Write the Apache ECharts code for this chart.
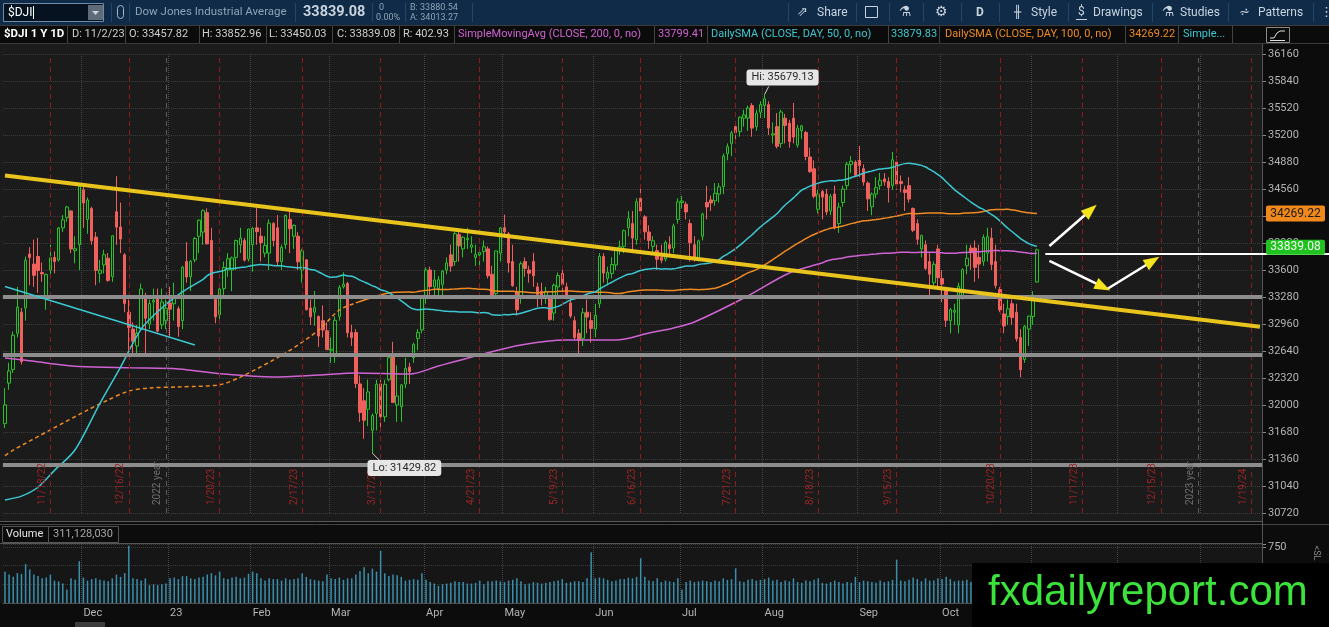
<!DOCTYPE html>
<html>
<head>
<meta charset="utf-8">
<title>$DJI 1 Y 1D</title>
<script src="https://cdn.jsdelivr.net/npm/echarts/dist/echarts.min.js"></script>
<style>
html, body { margin: 0; padding: 0; background: #0c0c0c; }
#main { width: 1329px; height: 627px; }
</style>
</head>
<body>
<div id="main"></div>
<script>
// ---- data ----
var holidays = ['2022-11-24', '2022-12-26', '2023-01-02', '2023-01-16', '2023-02-20', '2023-04-07',
    '2023-05-29', '2023-06-19', '2023-07-04', '2023-09-04', '2023-11-23', '2023-12-25',
    '2024-01-01', '2024-01-15'];
var barCount = 305; // 251 traded days + empty space out to late Jan 24

var opens = [
    31780, 32260, 32420, 32850, 33100, 33150, 33790, 33670, 33760, 33570, 33270, 33600, 33750, 33720, 34100, 34220, 34300, 33830, 33900,
    34550, 34200, 34330, 33990, 33560, 33660, 33740, 33520, 34290, 34110, 33780, 33100, 32900, 32700, 32900, 33300, 32960, 33220, 33260, 32950, 33000,
    33210, 33200, 33140, 33000, 33700, 33520, 33720, 34000, 34050, 34280, 33950, 33250, 33070, 33380, 33600, 33600, 33750, 33900, 33950, 33730,
    33900, 34100, 34000, 33800, 33800, 34150, 34100, 33700, 33900, 34200, 34000, 34000, 33600, 33720, 33150, 33100, 33050, 33000, 32880,
    32650, 32600, 33050, 33400, 33440, 32860, 32860, 32250, 32050, 31950, 31700, 31900, 32250, 31860, 32300, 32570, 32000, 31980, 32250, 32450, 32560, 32790, 32890,
    33280, 33600, 33400, 33380, 33430, 33600, 33780, 33700, 34020, 33850, 33960, 33870, 33750, 33780, 33820, 33850, 33550, 33320, 33800,
    34100, 34030, 33700, 33340, 33280, 33700, 33600, 33700, 33400, 33350, 33300, 33270, 33090, 33400, 33560, 33400, 33210, 33000, 32850, 32790, 33100, 33000,
    32900, 33200, 33760, 33500, 33560, 33660, 33850, 33880, 34100, 34150, 33960, 34450, 34230, 34050, 33880, 33830, 33750, 33730, 33900, 33860, 34200,
    34400, 34380, 34150, 33900, 33740, 34000, 34400, 34430, 34420, 34500, 34590, 34980, 35100, 35300, 35240, 35400, 35400, 35550, 35300, 35470,
    35550, 35560, 35200, 35300, 35100, 35400, 35340, 35400, 35080, 35250, 35230, 34940, 34800, 34320, 34530, 34500, 34300, 34500, 34150, 34400, 34600, 34850, 34880,
    34900, 34800, 34630, 34350, 34500, 34600, 34680, 34650, 34600, 34880, 34650, 34550, 34600, 34330, 34150, 33850, 33900, 33700, 33450, 33850,
    33500, 33370, 33000, 33100, 32950, 33300, 33650, 33860, 33860, 33750, 33700, 33800, 33980, 33700, 33370, 33080, 33050, 33200, 33100, 32800, 32540, 32900,
    33050, 33457.82
];
var highs = [
    32200, 32500, 32870, 33400, 33150, 33760, 33870, 33960, 33980, 33690, 33560, 33900, 33820, 34110, 34250, 34360, 34310, 34000, 34620,
    34600, 34460, 34350, 34050, 33720, 33840, 33800, 34015, 34712, 34400, 33800, 33250, 32980, 32950, 33440, 33330, 33250, 33380, 33380, 33380, 33250,
    33400, 33450, 33170, 33650, 33930, 33720, 33990, 34200, 34320, 34330, 34100, 33280, 33400, 33700, 33800, 33760, 33960, 34100, 33980, 34090,
    34110, 34334, 34100, 34000, 34200, 34170, 34250, 33900, 34260, 34335, 34140, 34050, 33850, 33730, 33250, 33350, 33060, 33180, 32980,
    32800, 33050, 33420, 33572, 33460, 32950, 32900, 32350, 32200, 32300, 31900, 32300, 32300, 32300, 32600, 32750, 32470, 32250, 32560, 32500, 32740, 32900, 33290,
    33630, 33640, 33600, 33530, 33600, 33750, 33900, 34050, 34080, 34000, 34100, 34000, 33900, 33860, 33950, 33880, 33650, 33830, 34110,
    34257, 34050, 33900, 33400, 33700, 33750, 33650, 33800, 33450, 33450, 33400, 33300, 33440, 33570, 33650, 33450, 33300, 33050, 32900, 33150, 33250, 33100,
    33200, 33800, 33800, 33640, 33750, 33850, 33950, 34080, 34300, 34300, 34450, 34588, 34250, 34130, 34000, 33900, 33900, 33950, 34000, 34150, 34450,
    34480, 34410, 34200, 34000, 33960, 34280, 34596, 34480, 34630, 34630, 34980, 35100, 35250, 35330, 35420, 35500, 35550, 35578, 35500, 35600,
    35679.13, 35600, 35350, 35460, 35500, 35450, 35380, 35580, 35320, 35320, 35250, 35050, 34900, 34550, 34550, 34560, 34500, 34600, 34400, 34600, 34880, 34950, 34900,
    35070, 34850, 34650, 34520, 34700, 34750, 34750, 34700, 35000, 34950, 34720, 34600, 34700, 34340, 34200, 34020, 33950, 33800, 33700, 33900,
    33600, 33400, 33150, 33200, 33450, 33620, 33900, 33900, 33950, 33900, 34020, 34100, 34100, 33900, 33400, 33200, 33250, 33250, 33200, 32900, 32950, 33060,
    33350, 33852.96
];
var lows = [
    31727, 32180, 32380, 32800, 32480, 33000, 33420, 33400, 33330, 33460, 33130, 33530, 33560, 33700, 34050, 34170, 33800, 33680, 33600,
    34100, 34030, 33900, 33420, 33450, 33560, 33460, 33460, 33900, 33800, 33100, 32650, 32580, 32580, 32880, 32600, 32900, 33000, 32860, 32900, 32900,
    32810, 33000, 32810, 32900, 33450, 33350, 33690, 33800, 33900, 33900, 33260, 32970, 32960, 33300, 33520, 33350, 33600, 33800, 33700, 33700,
    33580, 33900, 33700, 33750, 33600, 33880, 33650, 33600, 33850, 33800, 33850, 33600, 33450, 33120, 32950, 32940, 32690, 32800, 32650,
    32500, 32500, 33000, 33380, 32800, 32700, 32200, 31800, 31600, 31750, 31429.82, 31700, 31730, 31800, 32280, 32030, 31800, 31800, 32200, 32250, 32500, 32650, 32850,
    33200, 33300, 33280, 33300, 33300, 33550, 33580, 33650, 33700, 33750, 33850, 33800, 33650, 33600, 33700, 33500, 33280, 33300, 33700,
    33980, 33570, 33400, 33060, 33200, 33520, 33450, 33400, 33160, 33180, 33200, 33000, 33000, 33300, 33350, 33250, 33030, 32770, 32586, 32700, 32850, 32740,
    32800, 33150, 33450, 33420, 33500, 33600, 33780, 33800, 34000, 33800, 33900, 34250, 33960, 33850, 33800, 33600, 33680, 33700, 33780, 33800, 34150,
    34330, 34200, 33700, 33700, 33700, 33950, 34200, 34300, 34360, 34400, 34500, 34900, 34950, 35100, 35180, 35300, 35250, 35180, 35250, 35400,
    35400, 35200, 35100, 35040, 35050, 35100, 35050, 35100, 35050, 35150, 34900, 34750, 34450, 34270, 34200, 34250, 34250, 34080, 34040, 34350, 34550, 34750, 34700,
    34700, 34600, 34300, 34250, 34450, 34550, 34600, 34400, 34550, 34550, 34520, 34300, 34400, 34050, 33900, 33750, 33600, 33300, 33400, 33400,
    33220, 32925, 32850, 32950, 32850, 33250, 33550, 33600, 33460, 33500, 33650, 33700, 33600, 33380, 33100, 32850, 32950, 32950, 32750, 32327, 32500, 32700,
    32950, 33450.03
];
var closes = [
    32001, 32403, 32827, 33160, 32514, 33715, 33747, 33537, 33593, 33554, 33546, 33746, 33700, 34098, 34194, 34347, 33850, 33853, 34590,
    34395, 34430, 33947, 33596, 33598, 33781, 33477, 34005, 34108, 33966, 33203, 32920, 32757, 32850, 33376, 33027, 33204, 33241, 32876, 33221, 33147,
    33136, 33270, 32930, 33631, 33517, 33704, 33973, 34190, 34303, 33910, 33297, 33044, 33375, 33630, 33734, 33744, 33949, 33978, 33717, 34086,
    34093, 34054, 33926, 33891, 34156, 33949, 33699, 33869, 34246, 34089, 34128, 33697, 33827, 33130, 33045, 33154, 32817, 32889, 32657,
    32662, 33004, 33391, 33432, 32856, 32798, 32254, 31910, 31820, 32155, 31875, 32247, 31862, 32245, 32561, 32031, 32106, 32238, 32433, 32395, 32718, 32860, 33274,
    33601, 33402, 33482, 33485, 33587, 33684, 33646, 34030, 33886, 33987, 33976, 33897, 33786, 33809, 33875, 33531, 33302, 33826, 34098,
    34051, 33684, 33414, 33128, 33674, 33619, 33562, 33531, 33309, 33301, 33348, 33012, 33420, 33535, 33427, 33286, 33055, 32800, 32765, 33093, 33042, 32908,
    33061, 33762, 33563, 33573, 33665, 33833, 33876, 34066, 34212, 33979, 34408, 34299, 34053, 33951, 33946, 33727, 33715, 33927, 33853, 34122, 34408,
    34418, 34288, 33922, 33734, 33945, 34262, 34347, 34395, 34509, 34585, 34952, 35061, 35225, 35228, 35411, 35438, 35520, 35282, 35459, 35560,
    35630, 35282, 35215, 35066, 35473, 35314, 35123, 35176, 35281, 35308, 34946, 34766, 34475, 34500, 34464, 34288, 34473, 34099, 34347, 34560, 34852, 34890, 34722,
    34838, 34642, 34443, 34500, 34577, 34663, 34646, 34576, 34907, 34618, 34624, 34518, 34441, 34070, 33964, 34007, 33619, 33551, 33667, 33508,
    33433, 33003, 33130, 33120, 33408, 33605, 33740, 33804, 33631, 33670, 33985, 33998, 33665, 33415, 33127, 32936, 33141, 33036, 32784, 32418, 32929, 33053,
    33275, 33839.08
];
// volume, millions of shares
var volumes = [
    420, 380, 350, 400, 390, 520, 450, 380, 360, 330, 340, 380, 300, 290, 260, 180, 330, 310, 560,
    340, 300, 320, 330, 310, 300, 290, 330, 380, 350, 400, 768, 330, 320, 300, 330, 240, 250, 240, 250, 260,
    330, 340, 320, 360, 360, 330, 320, 340, 350, 380, 400, 370, 420, 330, 320, 340, 350, 330, 340, 390,
    420, 400, 330, 300, 330, 320, 320, 300, 330, 310, 320, 330, 400, 350, 320, 310, 300, 290, 380,
    330, 320, 340, 310, 330, 330, 380, 430, 480, 400, 460, 420, 700, 400, 360, 380, 370, 350, 300, 310, 320, 310, 400,
    310, 280, 260, 230, 250, 260, 270, 290, 280, 280, 260, 260, 270, 300, 250, 290, 290, 300, 290,
    280, 300, 310, 330, 290, 250, 260, 280, 270, 260, 270, 280, 290, 300, 320, 270, 280, 290, 290, 280, 330, 680,
    330, 340, 330, 310, 290, 300, 320, 320, 340, 330, 350, 600, 350, 300, 290, 330, 280, 300, 290, 280, 330,
    180, 280, 300, 280, 290, 300, 290, 280, 300, 290, 330, 310, 320, 465, 290, 280, 310, 320, 300, 310,
    320, 340, 300, 310, 280, 300, 290, 330, 280, 270, 300, 290, 310, 330, 270, 260, 280, 300, 280, 260, 280, 270, 350,
    280, 300, 290, 280, 270, 300, 280, 290, 310, 580, 300, 290, 310, 340, 320, 290, 330, 300, 300, 330,
    320, 350, 320, 290, 300, 300, 310, 280, 300, 290, 300, 310, 320, 330, 340, 310, 300, 320, 340, 380, 330, 340,
    340, 311.13
];

// moving-average readings taken off the chart for bars whose window starts before the first bar
var sma50Head = [[0, 30875], [4, 30920], [8, 31025], [12, 31225], [17, 31470], [23, 32020], [28, 32450],
    [33, 32900], [38, 33150], [43, 33340], [48, 33490]];
var sma100Head = [[0, 31400], [2, 31465], [11, 31705], [20, 31940], [25, 32060], [30, 32165], [35, 32202],
    [42, 32214], [52, 32240], [57, 32330], [68, 32617], [76, 32889], [81, 33126], [85, 33210], [93, 33328], [98, 33340]];
var sma200Head = [[0, 32557], [5, 32530], [10, 32498], [18, 32455], [31, 32440], [42, 32427], [53, 32367],
    [65, 32332], [76, 32356], [85, 32380], [98, 32367], [105, 32462], [115, 32593], [125, 32711], [136, 32770],
    [148, 32770], [156, 32853], [162, 32913], [167, 32984], [179, 33268], [190, 33565], [198, 33685]];

var priceTicks = { min: 30720, max: 36160, step: 320 };
var levels = [33280, 32600, 31290];
var expiries = [['2022-11-18', '11/18/22'], ['2022-12-16', '12/16/22'], ['2023-01-20', '1/20/23'],
    ['2023-02-17', '2/17/23'], ['2023-03-17', '3/17/23'], ['2023-04-21', '4/21/23'], ['2023-05-19', '5/19/23'],
    ['2023-06-16', '6/16/23'], ['2023-07-21', '7/21/23'], ['2023-08-18', '8/18/23'], ['2023-09-15', '9/15/23'],
    ['2023-10-20', '10/20/23'], ['2023-11-17', '11/17/23'], ['2023-12-15', '12/15/23'], ['2024-01-19', '1/19/24']];
var yearEnds = [['2022-12-30', '2022 year'], ['2023-12-29', '2023 year']];

// hand-drawn lines, as [bar index, price]
var yellowTrend = [[0, 34719], [304, 32927]];
var cyanTrend = [[0, 33405], [46, 32712]];
var whiteLevel = 33790, whiteFrom = 252;
var arrows = [
    [[253, 33885], [263, 34311]],
    [[253, 33707], [266, 33399]],
    [[267, 33375], [278, 33707]]
];
var hiBar = '2023-08-01', loBar = '2023-03-15';

// ---- build ----
var dates = (function () {
    var out = [];
    var d = new Date(Date.UTC(2022, 10, 3));
    while (out.length < barCount) {
        var s = d.toISOString().slice(0, 10);
        var wd = d.getUTCDay();
        if (wd > 0 && wd < 6 && holidays.indexOf(s) < 0) out.push(s);
        d.setUTCDate(d.getUTCDate() + 1);
    }
    return out;
})();

var monthNames = ['Jan', 'Feb', 'Mar', 'Apr', 'May', 'Jun', 'Jul', 'Aug', 'Sep', 'Oct', 'Nov', 'Dec'];
function isMonthStart(i) {
    return i > 0 && dates[i].slice(5, 7) !== dates[i - 1].slice(5, 7);
}
function monthLabel(s) {
    var m = +s.slice(5, 7);
    return m === 1 ? s.slice(2, 4) : monthNames[m - 1];
}

var candles = closes.map(function (c, i) { return [opens[i], c, lows[i], highs[i]]; });

function sma(period, head) {
    var out = dates.map(function () { return null; });
    head.forEach(function (p) { out[p[0]] = p[1]; });
    for (var i = period - 1; i < closes.length; i++) {
        var s = 0;
        for (var j = i - period + 1; j <= i; j++) s += closes[j];
        out[i] = +(s / period).toFixed(2);
    }
    return out;
}
var sma50 = sma(50, sma50Head);
var sma100 = sma(100, sma100Head);
var sma200 = sma(200, sma200Head);
// the early stretch of the 100 day line is drawn dashed
var sma100Early = sma100.map(function (v, i) { return i <= 85 ? v : null; });
var sma100Late = sma100.map(function (v, i) { return i >= 85 ? v : null; });

var C_MAG = '#d063d3', C_CYAN = '#3cc8d2', C_ORANGE = '#ee8a25';
var C_UP = '#27c427', C_DOWN = '#f0605c';
var FONT = 'Roboto, "DejaVu Sans", sans-serif';
var PLOT_RIGHT = 1262;

var vLines = [];
expiries.forEach(function (e) {
    vLines.push({
        xAxis: e[0],
        lineStyle: { color: '#8f1c1c', type: [5, 4], width: 1 },
        label: { show: true, formatter: e[1], position: 'insideStartTop', color: '#9b2424', fontSize: 10, fontFamily: FONT, distance: [8, 3] }
    });
});
yearEnds.forEach(function (e) {
    vLines.push({
        xAxis: e[0],
        lineStyle: { color: '#5c5c5c', type: [5, 4], width: 1 },
        label: { show: true, formatter: e[1], position: 'insideStartTop', color: '#6e6e6e', fontSize: 10, fontFamily: FONT, distance: [8, 3] }
    });
});

var marks = [];
levels.forEach(function (v) {
    marks.push({ yAxis: v, lineStyle: { color: '#8d8d8d', width: 4, type: 'solid' } });
});
marks.push([{ coord: yellowTrend[0], lineStyle: { color: '#e9c41c', width: 4, type: 'solid' } }, { coord: yellowTrend[1] }]);
marks.push([{ coord: cyanTrend[0], lineStyle: { color: C_CYAN, width: 1.5, type: 'solid' } }, { coord: cyanTrend[1] }]);
marks.push([{ coord: [whiteFrom, whiteLevel], lineStyle: { color: '#ffffff', width: 2, type: 'solid' } }, { coord: [barCount - 1, whiteLevel] }]);
var hiIdx = dates.indexOf(hiBar), loIdx = dates.indexOf(loBar);
marks.push([{ coord: [hiIdx, 35679.13], lineStyle: { color: '#cfcfcf', width: 1, type: 'solid' } }, { coord: [hiIdx + 1, 35775] }]);
marks.push([{ coord: [loIdx, 31429.82], lineStyle: { color: '#cfcfcf', width: 1, type: 'solid' } }, { coord: [loIdx + 2, 31330] }]);
arrows.forEach(function (a) {
    marks.push([{ coord: a[0], lineStyle: { color: '#ffffff', width: 2.5, type: 'solid' } }, { coord: a[1] }]);
});
arrows.forEach(function (a) {
    marks.push([{ coord: a[0], symbol: 'none', lineStyle: { color: '#f4e21c', width: 0 } },
        { coord: a[1], symbol: 'triangle', symbolSize: [12, 16] }]);
});

var chart = echarts.init(document.getElementById('main'));

var option = {
    animation: false,
    backgroundColor: '#0c0c0c',
    grid: [
        { left: 2.9, right: 1329 - PLOT_RIGHT, top: 54, height: 459, containLabel: false, outerBoundsMode: 'none' },
        { left: 2.9, right: 1329 - PLOT_RIGHT, top: 544, height: 59, containLabel: false, outerBoundsMode: 'none' }
    ],
    xAxis: [
        {
            type: 'category', gridIndex: 0, data: dates, boundaryGap: true,
            axisLine: { show: false }, axisTick: { show: false }, axisLabel: { show: false },
            splitLine: { show: true, interval: function (i) { return isMonthStart(i); }, lineStyle: { color: '#444', type: 'dotted' } }
        },
        {
            type: 'category', gridIndex: 1, data: dates, boundaryGap: true,
            axisLine: { show: true, lineStyle: { color: '#505050' } }, axisTick: { show: false },
            axisLabel: {
                show: true, interval: function (i) { return isMonthStart(i); },
                formatter: function (v) { return monthLabel(v); },
                color: '#b4b4b4', fontSize: 11, fontFamily: FONT, align: 'left', margin: 5
            },
            splitLine: { show: true, interval: function (i) { return isMonthStart(i); }, lineStyle: { color: '#444', type: 'dotted' } }
        }
    ],
    yAxis: [
        {
            type: 'value', gridIndex: 0, position: 'right', scale: true,
            min: priceTicks.min, max: priceTicks.max, interval: priceTicks.step,
            axisLine: { show: true, lineStyle: { color: '#555' } },
            axisTick: { show: true, length: 4, lineStyle: { color: '#888' } },
            axisLabel: { color: '#b4b4b4', fontSize: 11, fontFamily: FONT, margin: 6, formatter: function (v) { return String(v); } },
            splitLine: { show: true, lineStyle: { color: '#3e3e3e', type: 'dotted' } }
        },
        {
            type: 'value', gridIndex: 1, position: 'right', min: 0, max: 790, interval: 250,
            axisLine: { show: true, lineStyle: { color: '#555' } },
            axisTick: { show: true, length: 4, lineStyle: { color: '#888' } },
            axisLabel: { color: '#b4b4b4', fontSize: 11, fontFamily: FONT, margin: 6, formatter: function (v) { return v === 750 ? '750' : ''; } },
            splitLine: { show: true, lineStyle: { color: '#3e3e3e', type: 'dotted' } }
        }
    ],
    series: [
        {
            name: 'expiry', type: 'line', data: dates.map(function () { return null; }), z: 1, silent: true, symbol: 'none',
            markLine: { silent: true, symbol: 'none', animation: false, data: vLines }
        },
        {
            name: '$DJI', type: 'candlestick', data: candles, barWidth: 3, z: 2,
            itemStyle: { color: 'rgba(0,0,0,0)', color0: C_DOWN, borderColor: C_UP, borderColor0: C_DOWN, borderWidth: 1 },
            markPoint: {
                silent: true, animation: false, symbol: 'circle', symbolSize: 1, itemStyle: { color: 'rgba(0,0,0,0)' },
                label: {
                    show: true, position: 'inside', color: '#2a2a2a', backgroundColor: '#e6e6e6', borderRadius: 3,
                    padding: [3, 5, 2, 5], fontSize: 11, fontFamily: FONT,
                    formatter: function (p) { return p.name; }
                },
                data: [
                    { name: 'Hi: 35679.13', coord: [hiIdx, 35679.13], label: { offset: [18, -17] } },
                    { name: 'Lo: 31429.82', coord: [loIdx, 31429.82], label: { offset: [32, 15] } }
                ]
            }
        },
        { name: 'SMA200', type: 'line', data: sma200, z: 3, showSymbol: false, connectNulls: true, smooth: 0.3, silent: true, lineStyle: { color: C_MAG, width: 1.5 } },
        { name: 'SMA100a', type: 'line', data: sma100Early, z: 3, showSymbol: false, connectNulls: true, smooth: 0.3, silent: true, lineStyle: { color: C_ORANGE, width: 1.5, type: [4, 3] } },
        { name: 'SMA100', type: 'line', data: sma100Late, z: 3, showSymbol: false, connectNulls: true, smooth: 0.3, silent: true, lineStyle: { color: C_ORANGE, width: 1.5 } },
        { name: 'SMA50', type: 'line', data: sma50, z: 3, showSymbol: false, connectNulls: true, smooth: 0.3, silent: true, lineStyle: { color: C_CYAN, width: 1.5 } },
        {
            name: 'marks', type: 'line', data: dates.map(function () { return null; }), z: 5, silent: true, symbol: 'none',
            markLine: { silent: true, symbol: 'none', animation: false, label: { show: false }, data: marks }
        },
        { name: 'Volume', type: 'bar', xAxisIndex: 1, yAxisIndex: 1, data: volumes, barWidth: 1.5, silent: true, itemStyle: { color: '#3a8fae' } }
    ]
};
chart.setOption(option);

// ---- screen furniture ----
function txt(x, y, s, color, size, weight, extra) {
    var st = { text: s, fill: color, font: (weight || 'normal') + ' ' + size + 'px ' + FONT, verticalAlign: 'middle' };
    if (extra) for (var k in extra) st[k] = extra[k];
    return { type: 'text', z: 100, x: x, y: y, style: st, silent: true };
}
function box(x, y, w, h, fill, stroke, z) {
    return { type: 'rect', z: z == null ? 100 : z, silent: true, shape: { x: x, y: y, width: w, height: h }, style: { fill: fill || 'none', stroke: stroke || null, lineWidth: 1 } };
}
function seg(x1, y1, x2, y2, color, w, z) {
    return { type: 'line', z: z == null ? 100 : z, silent: true, shape: { x1: x1, y1: y1, x2: x2, y2: y2 }, style: { stroke: color, lineWidth: w || 1 } };
}

var g = [];
// panel backgrounds
g.push(box(0, 44, PLOT_RIGHT, 478, '#1b1b1b', null, -10));
g.push(box(0, 544, PLOT_RIGHT, 59, '#161616', null, -10));
g.push(seg(0, 521.5, PLOT_RIGHT, 521.5, '#5a5a5a', 1, 50));
g.push(seg(0, 524.5, 1329, 524.5, '#444', 1, 50));
g.push(seg(0, 543.5, PLOT_RIGHT, 543.5, '#555', 1, 50));
g.push(seg(PLOT_RIGHT + 0.5, 44, PLOT_RIGHT + 0.5, 603, '#555', 1, 50));

// header row 1
g.push(box(0, 0, 1329, 25, '#0f2b48'));
g.push(box(3.5, 3.5, 100, 18, '#06121f', '#6d8aa6'));
g.push(txt(8, 12.5, '$DJI', '#ffffff', 12));
g.push(seg(33.5, 6, 33.5, 19, '#ffffff', 1));
g.push(box(88, 5, 15, 15, '#5f6b78'));
g.push({ type: 'polygon', z: 101, silent: true, shape: { points: [[92, 11], [99, 11], [95.5, 15]] }, style: { fill: '#c9d1d9' } });
g.push({ type: 'rect', z: 100, silent: true, shape: { x: 117.5, y: 5.5, width: 6, height: 13, r: 3 }, style: { fill: 'none', stroke: '#a8b8c8' } });
g.push(txt(135, 12.5, 'Dow Jones Industrial Average', '#8fa3b7', 11.5));
g.push(txt(303, 12.5, '33839.08', '#c8d3de', 14.5, 'bold'));
g.push(txt(379, 7.5, '0', '#8fa3b7', 9));
g.push(txt(376, 18, '0.00%', '#8fa3b7', 9));
g.push(txt(410, 7.5, 'B: 33880.54', '#8fa3b7', 9));
g.push(txt(410, 18, 'A: 34013.27', '#8fa3b7', 9));
[111, 129, 295, 372, 405, 472, 788, 856, 889, 923, 961, 999, 1068, 1152, 1228, 1313].forEach(function (x) {
    g.push(seg(x + 0.5, 3, x + 0.5, 22, '#24466a', 1));
});
g.push(txt(797, 12.5, '\u21d7', '#c9d4df', 13));
g.push(txt(817, 12.5, 'Share', '#c9d4df', 12));
g.push(box(865.5, 6.5, 12, 11, null, '#c9d4df'));
g.push(txt(899, 12.5, '\u2697', '#c9d4df', 14));
g.push(txt(935, 12.5, '\u2699', '#c9d4df', 14));
g.push(txt(976, 12.5, 'D', '#c9d4df', 12, 'bold'));
g.push(txt(1014, 12.5, '\u256b', '#c9d4df', 12));
g.push(txt(1031, 12.5, 'Style', '#c9d4df', 12));
g.push(txt(1078, 11.5, '$', '#c9d4df', 12));
g.push(seg(1076, 19.5, 1087, 19.5, '#c9d4df', 1));
g.push(txt(1093, 12.5, 'Drawings', '#c9d4df', 12));
g.push(txt(1162, 12.5, '\u2697', '#c9d4df', 14));
g.push(txt(1180, 12.5, 'Studies', '#c9d4df', 12));
g.push(txt(1239, 12.5, '\u2a6b', '#c9d4df', 13));
g.push(txt(1258, 12.5, 'Patterns', '#c9d4df', 12));
g.push(txt(1320, 12.5, '\u22ee', '#c9d4df', 13));

// header row 2: study readouts
g.push(box(0, 25, 1329, 19, '#0b0b0b'));
g.push(seg(0, 25.5, 1329, 25.5, '#3a3a3a', 1));
g.push(seg(0, 43.5, 1329, 43.5, '#3a3a3a', 1));
var cells = [
    ['$DJI 1 Y 1D', 4, 67, '#ffffff', 11.5, 'bold'],
    ['D: 11/2/23', 72, 125, '#cfcfcf', 11],
    ['O: 33457.82', 129, 199, '#cfcfcf', 11],
    ['H: 33852.96', 202, 266, '#cfcfcf', 11],
    ['L: 33450.03', 269, 332, '#cfcfcf', 11],
    ['C: 33839.08', 337, 399, '#cfcfcf', 11],
    ['R: 402.93', 403, 454, '#cfcfcf', 11],
    ['SimpleMovingAvg (CLOSE, 200, 0, no)', 458, 654, C_MAG, 11],
    ['33799.41', 658, 707, C_MAG, 11],
    ['DailySMA (CLOSE, DAY, 50, 0, no)', 711, 888, C_CYAN, 11],
    ['33879.83', 891, 939, C_CYAN, 11],
    ['DailySMA (CLOSE, DAY, 100, 0, no)', 945, 1125, C_ORANGE, 11],
    ['34269.22', 1129, 1178, C_ORANGE, 11],
    ['Simple...', 1183, 1232, C_CYAN, 11]
];
cells.forEach(function (c) {
    g.push(txt(c[1], 34.5, c[0], c[3], c[4], c[5]));
    g.push(seg(c[2] + 0.5, 26, c[2] + 0.5, 43, '#444', 1));
});
g.push(box(1266.5, 27.5, 23, 15, null, '#8a8a8a'));
g.push({ type: 'polyline', z: 101, silent: true, shape: { points: [[1270, 38], [1274, 38], [1277, 33], [1280, 31], [1285, 31]] }, style: { stroke: '#e0e0e0', lineWidth: 1, fill: 'none' } });
g.push(seg(1270, 40.5, 1285, 40.5, '#e0e0e0', 1));

// volume header
g.push(box(2.5, 526.5, 46, 16, '#0b0b0b', '#555'));
g.push(txt(6, 534.5, 'Volume', '#e6e6e6', 11));
g.push(box(48.5, 526.5, 70, 16, '#0b0b0b', '#555'));
g.push(txt(53, 534.5, '311,128,030', '#a8a8a8', 11));
g.push(txt(1316, 553, '<SL', '#8a8a8a', 9, 'normal', { align: 'center' }));
g[g.length - 1].rotation = -Math.PI / 2;

// scrollbar thumb
g.push(box(75, 622, 30, 5, '#3c3c3c'));

// price bubbles on the axis and the white level carried past it
var yClose = chart.convertToPixel({ yAxisIndex: 0 }, closes[closes.length - 1]);
var ySma100 = chart.convertToPixel({ yAxisIndex: 0 }, 34269.22);
var yWhite = chart.convertToPixel({ yAxisIndex: 0 }, whiteLevel);
g.push(seg(PLOT_RIGHT - 2, yWhite, 1329, yWhite, '#ffffff', 2, 99));
g.push({ type: 'rect', z: 100, silent: true, shape: { x: 1266, y: ySma100 - 8, width: 59, height: 16, r: 2 }, style: { fill: '#f0891c' } });
g.push(txt(1295.5, ySma100, '34269.22', '#1a1a1a', 12, 'normal', { align: 'center' }));
g.push({ type: 'rect', z: 100, silent: true, shape: { x: 1266, y: yClose - 10, width: 59, height: 15, r: 2 }, style: { fill: '#1fc21f' } });
g.push(txt(1295.5, yClose - 2.5, '33839.08', '#f4fff4', 12, 'normal', { align: 'center' }));

// watermark
g.push(box(972, 563, 357, 64, '#000000', null, 120));
g.push({ type: 'text', z: 121, silent: true, x: 988, y: 593, style: { text: 'fxdailyreport.com', fill: '#3be33b', font: '42px "Liberation Sans", Arial, sans-serif', verticalAlign: 'middle' } });

chart.setOption({ graphic: { elements: g } });
</script>
</body>
</html>
